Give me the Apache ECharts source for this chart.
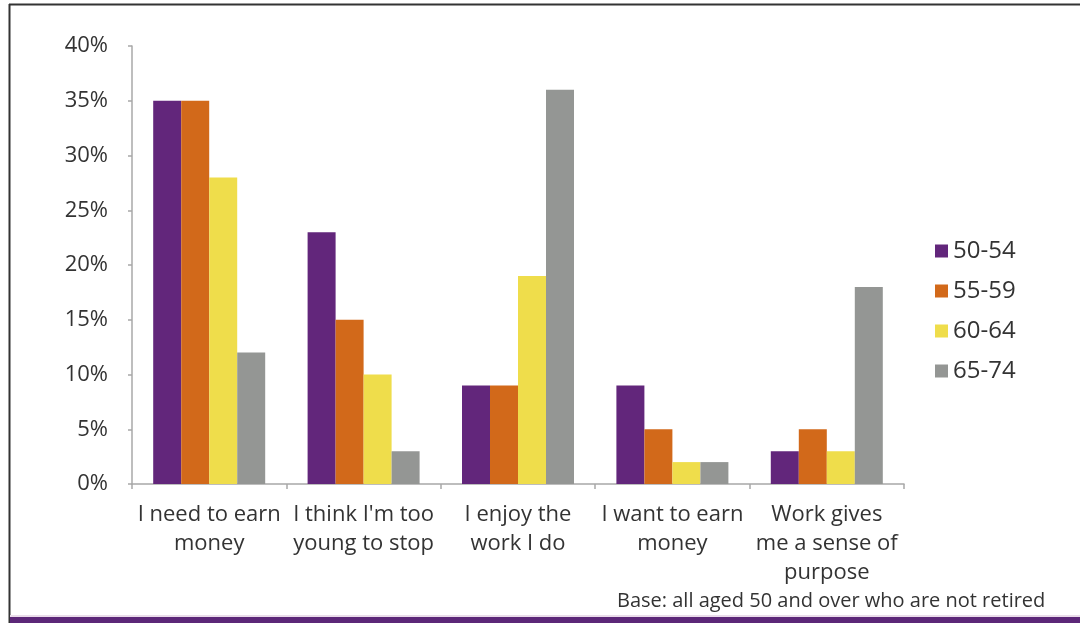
<!DOCTYPE html>
<html>
<head>
<meta charset="utf-8">
<script src="https://cdn.jsdelivr.net/npm/echarts@6/dist/echarts.min.js"></script>
<style>
html,body{margin:0;padding:0;background:#fff;}
#c{width:1080px;height:623px;}
</style>
</head>
<body>
<div id="c"></div>
<script>
const categories = ["I need to earn\nmoney", "I think I'm too\nyoung to stop", "I enjoy the\nwork I do", "I want to earn\nmoney", "Work gives\nme a sense of\npurpose"];
const seriesNames = ["50-54", "55-59", "60-64", "65-74"];
const s5054 = [35, 23, 9, 9, 3];
const s5559 = [35, 15, 9, 5, 5];
const s6064 = [28, 10, 19, 2, 3];
const s6574 = [12, 3, 36, 2, 18];
const colors = ["#62267b", "#d2691a", "#efdd4b", "#949694"];
const footnote = "Base: all aged 50 and over who are not retired";

const FONT = "Open Sans";
const TXT = "#333333";
const values = [s5054, s5559, s6064, s6574];

const chart = echarts.init(document.getElementById('c'), null, {renderer: 'canvas'});
chart.setOption({
  animation: false,
  backgroundColor: '#ffffff',
  textStyle: {fontFamily: FONT},
  grid: {left: 132, right: 176, top: 46, bottom: 139, containLabel: false},
  legend: {
    orient: 'vertical',
    left: 935,
    top: 239,
    padding: 0,
    itemWidth: 13,
    itemHeight: 13,
    itemGap: 16,
    icon: 'rect',
    textStyle: {fontFamily: FONT, fontSize: 24, color: TXT, lineHeight: 24},
    data: seriesNames
  },
  xAxis: {
    type: 'category',
    data: categories,
    axisLine: {show: true, lineStyle: {color: '#a8a8a8', width: 1.5}},
    axisTick: {show: true, alignWithLabel: false, length: 5, lineStyle: {color: '#a8a8a8', width: 1.5}},
    axisLabel: {interval: 0, fontFamily: FONT, fontSize: 22, lineHeight: 29, color: TXT, margin: 16, align: 'center'},
    splitLine: {show: false}
  },
  yAxis: {
    type: 'value',
    min: 0, max: 40, interval: 5,
    axisLine: {show: true, lineStyle: {color: '#a8a8a8', width: 1.5}},
    axisTick: {show: true, length: 4, lineStyle: {color: '#a8a8a8', width: 1.5}},
    axisLabel: {formatter: '{value}%', fontFamily: FONT, fontSize: 22, color: TXT, margin: 24},
    splitLine: {show: false}
  },
  series: seriesNames.map((n, i) => ({
    name: n,
    type: 'bar',
    data: values[i],
    barWidth: 28,
    barGap: '0%',
    itemStyle: {color: colors[i]}
  })),
  graphic: [
    {type: 'line', shape: {x1: 9, y1: 4.5, x2: 1080, y2: 4.5}, style: {stroke: '#333', lineWidth: 2}},
    {type: 'line', shape: {x1: 9.5, y1: 4, x2: 9.5, y2: 623}, style: {stroke: '#333', lineWidth: 2}},
    {type: 'rect', shape: {x: 10, y: 615, width: 1070, height: 2}, style: {fill: '#eadcea'}},
    {type: 'rect', shape: {x: 10, y: 617, width: 1070, height: 6}, style: {fill: '#5c2778'}},
    {type: 'text', left: 617, top: 591, style: {text: footnote, fontFamily: FONT, fontSize: 20, fill: TXT}}
  ]
});
</script>
</body>
</html>
